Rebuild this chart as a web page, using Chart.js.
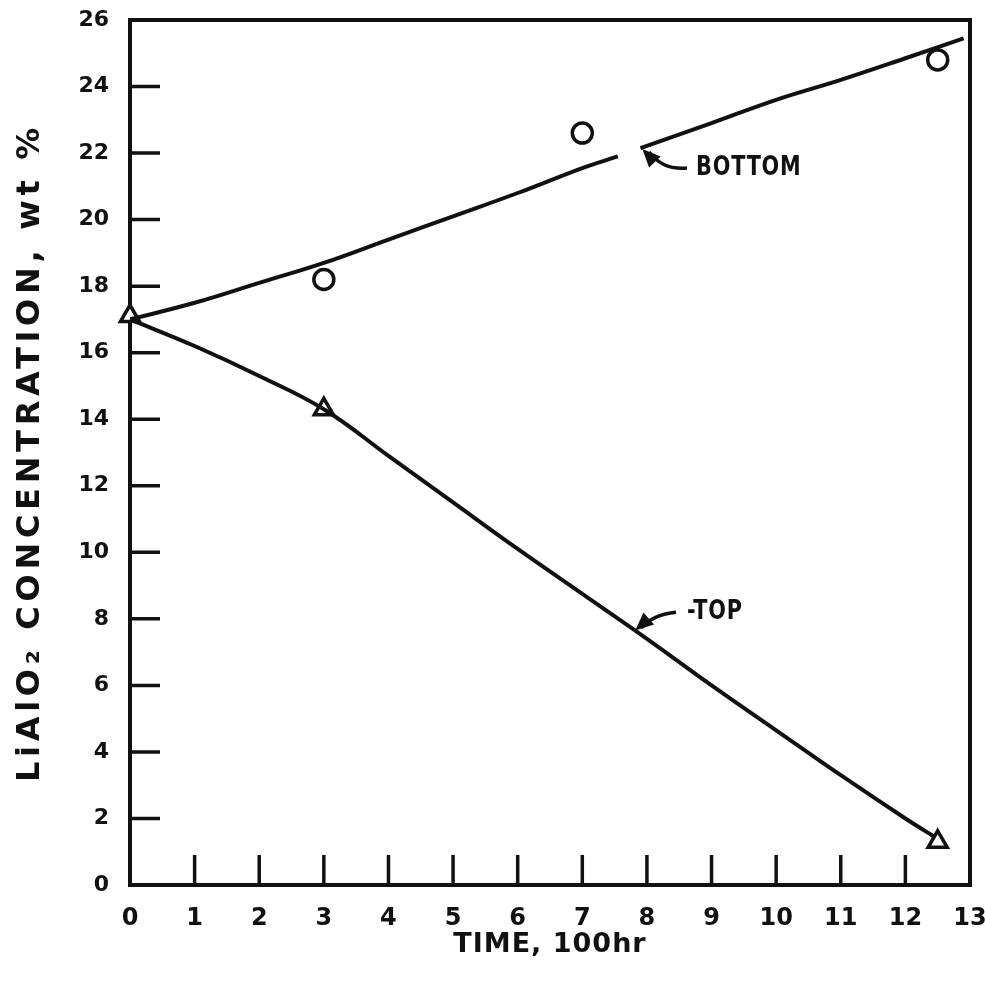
<!DOCTYPE html>
<html>
<head>
<meta charset="utf-8">
<script src="https://cdn.jsdelivr.net/npm/chart.js@4.4.1/dist/chart.umd.min.js"></script>
<style>
    html, body { margin: 0; padding: 0; background: #fff; }
    #wrap { width: 985px; height: 990px; position: relative; }
</style>
</head>
<body>
<div id="wrap"><canvas id="chart"></canvas></div>
<script>
// smooth fitted curves (time in 100 hr, wt %)
const fitTimeBottom = [0, 1, 2, 3, 4, 5, 6, 7, 7.55, 7.7, 7.9, 9, 10, 11, 12, 12.9];
const fitBottom = [17.0, 17.5, 18.1, 18.7, 19.4, 20.1, 20.8, 21.55, 21.9, null, 22.15, 22.9, 23.6, 24.2, 24.85, 25.45];
const fitTimeTop = [0, 1, 2, 3, 4, 5, 6, 7, 8, 9, 10, 11, 12, 12.45];
const fitTop = [17.0, 16.2, 15.3, 14.3, 12.9, 11.5, 10.1, 8.75, 7.4, 6.0, 4.65, 3.3, 2.0, 1.45];

// measured points
const timeBottom = [3, 7, 12.5];
const measBottom = [18.2, 22.6, 24.8];
const timeTop = [0, 3, 12.5];
const measTop = [17.1, 14.3, 1.3];

const xTicks = [0, 1, 2, 3, 4, 5, 6, 7, 8, 9, 10, 11, 12, 13];
const yTicks = [0, 2, 4, 6, 8, 10, 12, 14, 16, 18, 20, 22, 24, 26];

const xTitle = 'TIME, 100hr';
const yTitle = 'LiAlO\u2082 CONCENTRATION, wt %';

// curve labels: [text, textX, textY, tailX, tailY, tipX, tipY]
const labels = [
    ['BOTTOM', 8.76, 21.55, 8.62, 21.55, 7.93, 22.12],
    ['-TOP', 8.62, 8.2, 8.45, 8.2, 7.82, 7.65]
];

const ink = '#111';
const fontFam = '"DejaVu Sans", "Liberation Sans", sans-serif';

function pts(xs, ys) {
    return xs.map((x, i) => ({ x: x, y: ys[i] }));
}

function noPad(s) {
    s.paddingLeft = 0; s.paddingRight = 0; s.paddingTop = 0; s.paddingBottom = 0;
}

// frame, inward ticks and axis titles (under the data), curve labels on top
const framePlugin = {
    id: 'frame',
    beforeDatasetsDraw(chart) {
        const { ctx, chartArea: a, scales } = chart;
        const xs = scales.x, ys = scales.y;
        ctx.save();
        ctx.strokeStyle = ink;
        ctx.lineCap = 'butt';
        ctx.lineWidth = 4;
        ctx.strokeRect(a.left, a.top, a.right - a.left, a.bottom - a.top);

        ctx.lineWidth = 3.5;
        ctx.beginPath();
        xTicks.slice(1, -1).forEach(v => {
            const px = xs.getPixelForValue(v);
            ctx.moveTo(px, a.bottom);
            ctx.lineTo(px, a.bottom - 30);
        });
        yTicks.slice(1, -1).forEach(v => {
            const py = ys.getPixelForValue(v);
            ctx.moveTo(a.left, py);
            ctx.lineTo(a.left + 30, py);
        });
        ctx.stroke();

        ctx.fillStyle = ink;
        ctx.textAlign = 'center';
        ctx.textBaseline = 'middle';
        ctx.font = 'bold 27px ' + fontFam;
        ctx.letterSpacing = '1px';
        ctx.fillText(xTitle, (a.left + a.right) / 2, a.bottom + 60);
        ctx.translate(31, (a.top + a.bottom) / 2);
        ctx.rotate(-Math.PI / 2);
        ctx.font = 'bold 32px ' + fontFam;
        ctx.letterSpacing = '4.7px';
        ctx.fillText(yTitle, 0, 0);
        ctx.restore();
    },
    afterDatasetsDraw(chart) {
        const { ctx, scales } = chart;
        const xs = scales.x, ys = scales.y;
        ctx.save();
        ctx.strokeStyle = ink;
        ctx.fillStyle = ink;
        ctx.textBaseline = 'middle';
        ctx.letterSpacing = '1px';
        ctx.textAlign = 'left';
        ctx.font = 'bold 26px ' + fontFam;
        labels.forEach(([txt, tx, ty, ax, ay, bx, by]) => {
            ctx.save();
            ctx.translate(xs.getPixelForValue(tx), ys.getPixelForValue(ty));
            ctx.scale(0.8, 1);
            ctx.fillText(txt, 0, 0);
            ctx.restore();
            const x0 = xs.getPixelForValue(ax), y0 = ys.getPixelForValue(ay);
            const x1 = xs.getPixelForValue(bx), y1 = ys.getPixelForValue(by);
            const cx = x0 - (x0 - x1) * 0.55, cy = y0 + 2;
            ctx.lineWidth = 3.5;
            ctx.beginPath();
            ctx.moveTo(x0, y0);
            ctx.quadraticCurveTo(cx, cy, x1 + (x0 - x1) * 0.15, y1 + (y0 - y1) * 0.15);
            ctx.stroke();
            // arrow head
            const ang = Math.atan2(y1 - cy, x1 - cx);
            const L = 18, W = 8;
            ctx.beginPath();
            ctx.moveTo(x1, y1);
            ctx.lineTo(x1 - L * Math.cos(ang) + W * Math.sin(ang), y1 - L * Math.sin(ang) - W * Math.cos(ang));
            ctx.lineTo(x1 - L * Math.cos(ang) - W * Math.sin(ang), y1 - L * Math.sin(ang) + W * Math.cos(ang));
            ctx.closePath();
            ctx.fill();
        });
        ctx.restore();
    }
};

new Chart(document.getElementById('chart'), {
    type: 'line',
    data: {
        datasets: [
            {
                data: pts(fitTimeBottom, fitBottom),
                borderColor: ink, borderWidth: 4, pointRadius: 0,
                tension: 0.4, spanGaps: false
            },
            {
                data: pts(fitTimeTop, fitTop),
                borderColor: ink, borderWidth: 4, pointRadius: 0,
                tension: 0.4
            },
            {
                data: pts(timeBottom, measBottom),
                showLine: false, pointStyle: 'circle', pointRadius: 10, clip: false,
                borderColor: ink, borderWidth: 3.5, backgroundColor: '#fff'
            },
            {
                data: pts(timeTop, measTop),
                showLine: false, pointStyle: 'triangle', pointRadius: 11, clip: false,
                borderColor: ink, borderWidth: 3.5, backgroundColor: '#fff'
            }
        ]
    },
    options: {
        responsive: true,
        maintainAspectRatio: false,
        animation: false,
        layout: { padding: { top: 20, right: 15, left: 0, bottom: 0 } },
        plugins: { legend: { display: false }, tooltip: { enabled: false } },
        scales: {
            x: {
                type: 'linear', min: 0, max: 13,
                afterBuildTicks: s => { s.ticks = xTicks.map(v => ({ value: v })); },
                afterFit: s => { s.height = 105; noPad(s); },
                grid: { display: false, drawTicks: false },
                border: { display: false },
                ticks: { color: ink, padding: 19, font: { family: fontFam, weight: 'bold', size: 24 } },
                title: { display: false }
            },
            y: {
                type: 'linear', min: 0, max: 26,
                afterBuildTicks: s => { s.ticks = yTicks.map(v => ({ value: v })); },
                afterFit: s => { s.width = 130; noPad(s); },
                grid: { display: false, drawTicks: false },
                border: { display: false },
                ticks: { color: ink, padding: 21, font: { family: fontFam, weight: 'bold', size: 22 } },
                title: { display: false }
            }
        }
    },
    plugins: [framePlugin]
});
</script>
</body>
</html>
